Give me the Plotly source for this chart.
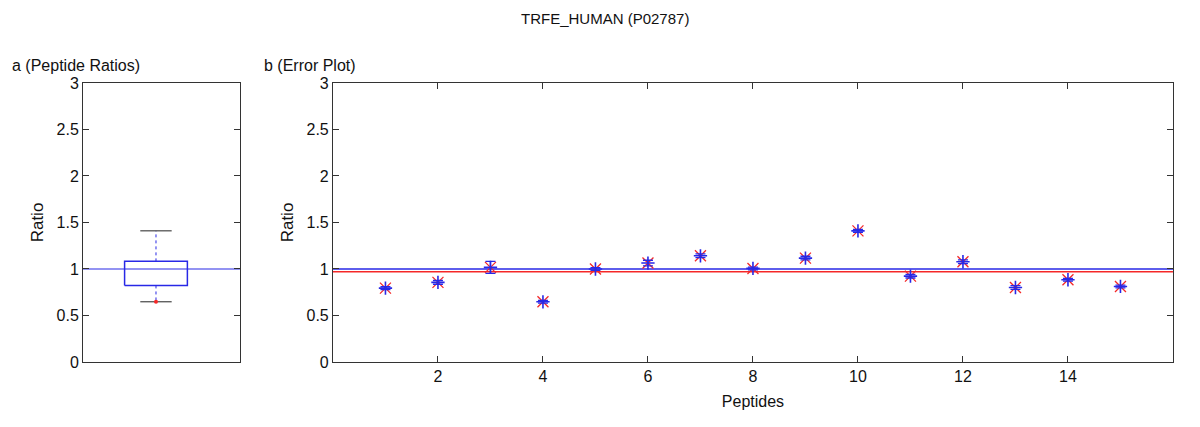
import numpy as np
import plotly.graph_objects as go

# data
peptides = list(range(1, 16))
ratios = [0.794, 0.856, 1.017, 0.647, 1.000, 1.064, 1.142, 1.006,
          1.117, 1.410, 0.923, 1.078, 0.801, 0.884, 0.812]
errors = [0.015, 0.02, 0.065, 0.015, 0.015, 0.03, 0.02, 0.015,
          0.02, 0.015, 0.02, 0.02, 0.02, 0.015, 0.015]

# box stats
q1, med, q3 = 0.823, 1.0, 1.082
lo_whisk, hi_whisk = 0.647, 1.41
mean_ratio = float(np.mean(ratios))

BLUE = "rgb(40,40,230)"
RED = "rgb(245,40,40)"
AX = "#333333"
FONT = "Liberation Sans, Arial, sans-serif"

fig = go.Figure()

# ---- panel a: box plot ----
bw = 0.2   # half box width
cw = 0.1   # half cap width
fig.add_trace(go.Scatter(x=[-bw, bw, bw, -bw, -bw], y=[q1, q1, q3, q3, q1],
                         mode="lines", line=dict(color=BLUE, width=1.5),
                         xaxis="x", yaxis="y", hoverinfo="skip"))
fig.add_trace(go.Scatter(x=[0, 0, None, 0, 0], y=[q3, hi_whisk, None, q1, lo_whisk],
                         mode="lines", line=dict(color=BLUE, width=1, dash="dot"),
                         xaxis="x", yaxis="y", hoverinfo="skip"))
fig.add_trace(go.Scatter(x=[-cw, cw, None, -cw, cw],
                         y=[hi_whisk, hi_whisk, None, lo_whisk, lo_whisk],
                         mode="lines", line=dict(color="#222", width=1),
                         xaxis="x", yaxis="y", hoverinfo="skip"))
fig.add_trace(go.Scatter(x=[-0.465, 0.535], y=[med, med],
                         mode="lines", line=dict(color=BLUE, width=1.2),
                         xaxis="x", yaxis="y", hoverinfo="skip"))
fig.add_trace(go.Scatter(x=[0], y=[min(ratios)], mode="markers",
                         marker=dict(color=RED, size=4),
                         xaxis="x", yaxis="y", hoverinfo="skip"))

# ---- panel b: error plot ----
fig.add_trace(go.Scatter(x=[0, 16], y=[med, med], mode="lines",
                         line=dict(color=BLUE, width=1.5), xaxis="x2", yaxis="y2"))
fig.add_trace(go.Scatter(x=[0, 16], y=[mean_ratio, mean_ratio], mode="lines",
                         line=dict(color=RED, width=1.5), xaxis="x2", yaxis="y2"))
# red diagonals of the asterisk
fig.add_trace(go.Scatter(x=peptides, y=ratios, mode="markers",
                         marker=dict(symbol="x-thin-open", size=11, color=RED,
                                     line=dict(color=RED, width=1.3)),
                         xaxis="x2", yaxis="y2"))
# blue cross + error bars on top
fig.add_trace(go.Scatter(x=peptides, y=ratios, mode="markers",
                         marker=dict(symbol="cross-thin-open", size=9.5, color=BLUE,
                                     line=dict(color=BLUE, width=1.6)),
                         error_y=dict(type="data", array=errors, color=BLUE,
                                      thickness=1.3, width=5),
                         xaxis="x2", yaxis="y2"))

axis_common = dict(showline=True, linecolor=AX, linewidth=1, mirror="ticks",
                   ticklen=6, tickcolor=AX, showgrid=False, automargin=False,
                   zeroline=False, tickfont=dict(size=16, color="#111"))

yticks = [0, 0.5, 1, 1.5, 2, 2.5, 3]
yticktext = ["0", "0.5", "1", "1.5", "2", "2.5", "3"]
ydom = [0.171, 0.8244]

fig.update_layout(
    width=1200, height=427,
    margin=dict(l=0, r=0, t=0, b=0),
    paper_bgcolor="white", plot_bgcolor="white",
    showlegend=False,
    font=dict(family=FONT, color="#111"),
    xaxis=dict(domain=[0.0625, 0.1933], range=[-0.465, 0.535], showticklabels=False,
               ticks="", **axis_common),
    yaxis=dict(domain=ydom, range=[0, 3], tickvals=yticks, ticktext=yticktext,
               ticks="inside",
               title=dict(text="Ratio", font=dict(size=17), standoff=8), **axis_common),
    xaxis2=dict(domain=[0.2708, 0.9708], range=[0, 16], tickvals=[2, 4, 6, 8, 10, 12, 14],
                ticks="inside",
                title=dict(text="Peptides", font=dict(size=16), standoff=11),
                anchor="y2", **axis_common),
    yaxis2=dict(domain=ydom, range=[0, 3], tickvals=yticks, ticktext=yticktext, anchor="x2",
                ticks="inside",
                title=dict(text="Ratio", font=dict(size=17), standoff=8), **axis_common),
    annotations=[
        dict(text="TRFE_HUMAN (P02787)", x=0.4975, y=1 - 10 / 427, xref="paper", yref="paper",
             showarrow=False, font=dict(size=15), xanchor="center", yanchor="middle"),
        dict(text="a (Peptide Ratios)", x=0.002, y=1 - 57 / 427, xref="paper", yref="paper",
             showarrow=False, font=dict(size=16), xanchor="left", yanchor="middle"),
        dict(text="b (Error Plot)", x=0.212, y=1 - 57 / 427, xref="paper", yref="paper",
             showarrow=False, font=dict(size=16), xanchor="left", yanchor="middle"),
    ],
)

fig.write_html("out.html")
